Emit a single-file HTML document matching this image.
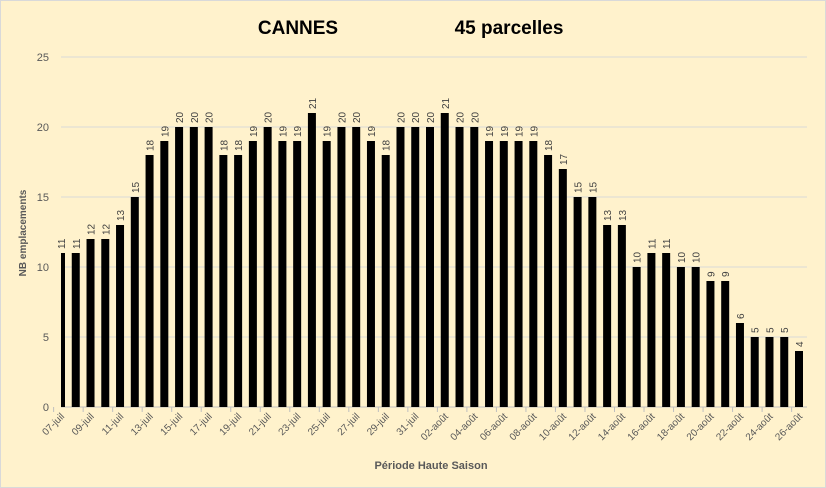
<!DOCTYPE html>
<html><head><meta charset="utf-8"><style>
body{margin:0;background:#fff;}
#wrap{position:relative;width:824px;height:486px;border:1px solid #d9d9d9;background:#FFF2CC;overflow:hidden;}
svg{position:absolute;left:0;top:0;}
text{font-family:"Liberation Sans",sans-serif;}
</style></head><body>
<div id="wrap">
<svg id="chart" width="826" height="488">
<text x="297" y="33" font-size="19" font-weight="bold" text-anchor="middle" fill="#000">CANNES</text>
<text x="508" y="33" font-size="19" font-weight="bold" text-anchor="middle" fill="#000">45 parcelles</text>
<text x="430" y="468" font-size="11" font-weight="bold" text-anchor="middle" fill="#595959">Période Haute Saison</text>
<text transform="translate(25,232) rotate(-90)" font-size="10" font-weight="bold" text-anchor="middle" fill="#595959">NB emplacements</text>
<g id="grid"></g><g id="bars"></g><g id="xlabels"></g>
</svg>
</div>
<script>
const categories=["07-juil","08-juil","09-juil","10-juil","11-juil","12-juil","13-juil","14-juil","15-juil","16-juil","17-juil","18-juil","19-juil","20-juil","21-juil","22-juil","23-juil","24-juil","25-juil","26-juil","27-juil","28-juil","29-juil","30-juil","31-juil","01-août","02-août","03-août","04-août","05-août","06-août","07-août","08-août","09-août","10-août","11-août","12-août","13-août","14-août","15-août","16-août","17-août","18-août","19-août","20-août","21-août","22-août","23-août","24-août","25-août","26-août"];
const values=[11,11,12,12,13,15,18,19,20,20,20,18,18,19,20,19,19,21,19,20,20,19,18,20,20,20,21,20,20,19,19,19,19,18,17,15,15,13,13,10,11,11,10,10,9,9,6,5,5,5,4];
const yTicks=[0,5,10,15,20,25];
const NS="http://www.w3.org/2000/svg";
const left=60,right=806,y0=406,yMax=25,yTop=56;
const step=(798-60)/(categories.length-1);
function xc(i){return 60+step*i;}
function y(v){return y0-(v/yMax)*(y0-yTop);}
function mk(tag,attrs,parent){const e=document.createElementNS(NS,tag);for(const k in attrs)e.setAttribute(k,attrs[k]);parent.appendChild(e);return e;}
const grid=document.getElementById('grid'),bars=document.getElementById('bars'),xl=document.getElementById('xlabels');
yTicks.forEach(t=>{
  const l=mk('line',{x1:left,x2:right,y1:y(t),y2:y(t),stroke:t===0?'#bfbfbf':'#d9d9d9','stroke-width':1},grid);
  
  
  const tx=mk('text',{x:48,y:y(t)+4,'font-size':11,'text-anchor':'end',fill:'#595959'},grid);
  tx.textContent=t;
  
  
});
const bw=8;
values.forEach((v,i)=>{
  let x=xc(i)-bw/2,w=bw;
  if(x<left){w-= (left-x);x=left;}
  const r=mk('rect',{x:x,y:y(v),width:w,height:y0-y(v),fill:'#000'},bars);
  
  
  const t=mk('text',{transform:`translate(${xc(i)+4},${y(v)-4}) rotate(-90)`,'font-size':10,fill:'#404040'},bars);
  t.textContent=v;
  
  
});
categories.forEach((c,i)=>{
  if(i%2===0){
    const tk=mk('line',{x1:xc(i)-step/2,x2:xc(i)-step/2,y1:y0,y2:y0+5,stroke:'#bfbfbf'},xl);
    
    
    const t=mk('text',{transform:`translate(${xc(i)+4},${y0+10}) rotate(-45)`,'font-size':10,'text-anchor':'end',fill:'#595959'},xl);
    t.textContent=c;
    
    
  }
});
</script>
</body></html>
